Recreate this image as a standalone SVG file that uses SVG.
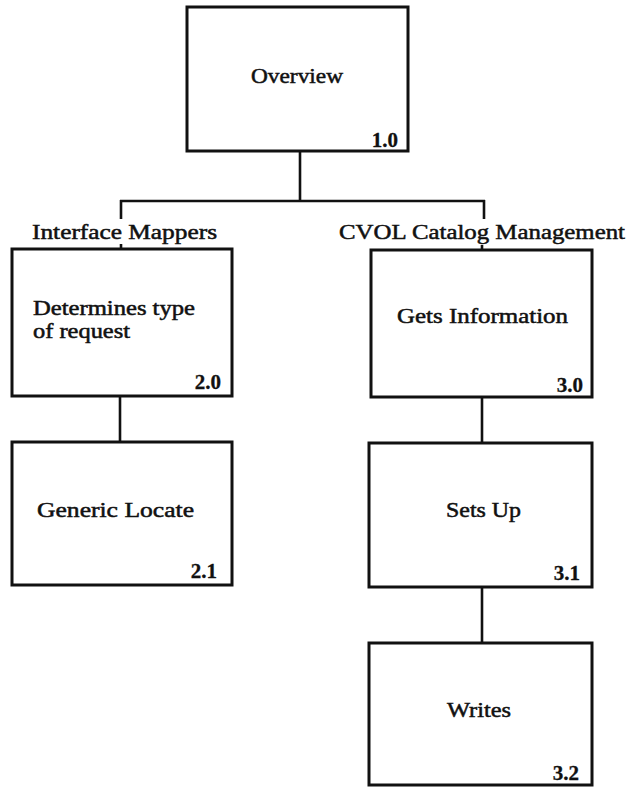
<svg xmlns="http://www.w3.org/2000/svg" width="633" height="788" viewBox="0 0 633 788">
<style>
.box{fill:#fff;stroke:#111;stroke-width:3}
.ln{stroke:#111;stroke-width:2.6;fill:none}
text{font-family:"Liberation Serif","Times New Roman",serif;font-size:21px;fill:#111;stroke:#111;stroke-width:0.5}
.num{text-anchor:end;font-weight:bold;stroke-width:0.3}
.sm{font-size:20px}
</style>
<rect width="633" height="788" fill="#fff"/>
<g id="connectors">
<line class="ln" x1="300" y1="151" x2="300" y2="201"/>
<line class="ln" x1="120" y1="201" x2="485" y2="201"/>
<line class="ln" x1="121" y1="200" x2="121" y2="219"/>
<line class="ln" x1="484" y1="200" x2="484" y2="219"/>
<line class="ln" x1="121" y1="244" x2="121" y2="249"/>
<line class="ln" x1="482" y1="245" x2="482" y2="250"/>
<line class="ln" x1="120" y1="396" x2="120" y2="442"/>
<line class="ln" x1="482" y1="397" x2="482" y2="443"/>
<line class="ln" x1="482" y1="587" x2="482" y2="643"/>
</g>
<g id="n1_0">
<rect class="box" x="187" y="7" width="221" height="144"/>
<text x="251" y="83" textLength="92" lengthAdjust="spacingAndGlyphs">Overview</text>
<text class="num" x="398" y="147">1.0</text>
</g>
<g id="label_left">
<text x="32" y="239" textLength="185" lengthAdjust="spacingAndGlyphs">Interface  Mappers</text>
</g>
<g id="label_right">
<text x="339" y="239" textLength="286" lengthAdjust="spacingAndGlyphs">CVOL  Catalog  Management</text>
</g>
<g id="n2_0">
<rect class="box" x="12" y="249" width="220" height="147"/>
<text class="sm" x="33" y="315" textLength="162" lengthAdjust="spacingAndGlyphs">Determines type</text>
<text class="sm" x="33" y="338" textLength="97" lengthAdjust="spacingAndGlyphs">of request</text>
<text class="num" x="221" y="389">2.0</text>
</g>
<g id="n2_1">
<rect class="box" x="12" y="442" width="220" height="143"/>
<text x="37" y="517" textLength="157" lengthAdjust="spacingAndGlyphs">Generic  Locate</text>
<text class="num" x="217" y="578">2.1</text>
</g>
<g id="n3_0">
<rect class="box" x="371" y="250" width="221" height="147"/>
<text x="397" y="323" textLength="171" lengthAdjust="spacingAndGlyphs">Gets Information</text>
<text class="num" x="583" y="392">3.0</text>
</g>
<g id="n3_1">
<rect class="box" x="369" y="443" width="223" height="144"/>
<text x="446" y="517" textLength="75" lengthAdjust="spacingAndGlyphs">Sets Up</text>
<text class="num" x="580" y="580">3.1</text>
</g>
<g id="n3_2">
<rect class="box" x="369" y="643" width="223" height="142"/>
<text x="447" y="717" textLength="64" lengthAdjust="spacingAndGlyphs">Writes</text>
<text class="num" x="579" y="780">3.2</text>
</g>
</svg>
